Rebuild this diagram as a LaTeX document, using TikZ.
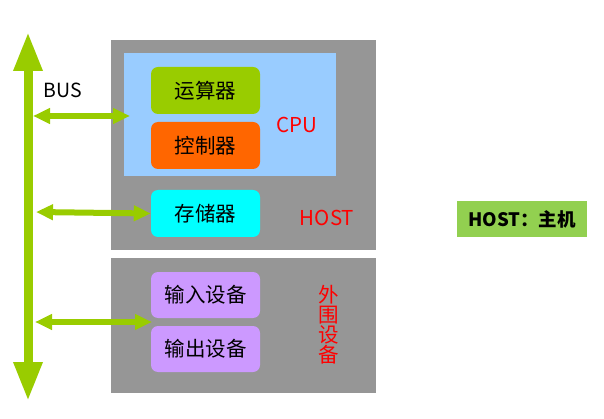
\documentclass[tikz,border=0pt]{standalone}
\usepackage{fontspec}
\setmainfont{Noto Sans CJK SC}
\usetikzlibrary{arrows.meta}
\definecolor{hostgray}{HTML}{969696}
\definecolor{cpublue}{HTML}{99CCFF}
\definecolor{busgreen}{HTML}{99CC00}
\definecolor{ctrlorange}{HTML}{FF6600}
\definecolor{memcyan}{HTML}{00FFFF}
\definecolor{iopurple}{HTML}{CC99FF}
\definecolor{legendgreen}{HTML}{92D050}
\definecolor{labelred}{HTML}{FF0000}
\tikzset{
  panel/.style={fill=#1, draw=none, inner sep=0pt, anchor=north west},
  unitbox/.style={fill=#1, draw=none, rounded corners=7pt, minimum width=109pt, minimum height=47pt, inner sep=0pt, font=\fontsize{20.5}{22}\selectfont},
  redlabel/.style={text=labelred, font=\fontsize{20.5}{22}\selectfont, inner sep=0pt},
  busline/.style={draw=busgreen, line width=9pt, {Triangle[width=27pt,length=39pt]}-{Triangle[width=27pt,length=39pt]}, shorten <=-1pt, shorten >=-1pt},
  linkline/.style={draw=busgreen, line width=6pt, {Triangle[width=15pt,length=17pt]}-{Triangle[width=15pt,length=17pt]}}
}
\begin{document}
\begin{tikzpicture}[x=1pt,y=-1pt]
\useasboundingbox (0,0) rectangle (604,419);
% host panel
\node[panel=hostgray, minimum width=265pt, minimum height=210pt] (host) at (111,40) {};
\node[panel=cpublue, minimum width=212pt, minimum height=123pt] (cpu) at (124,53) {};
\node[panel=hostgray, minimum width=265pt, minimum height=135pt] (periph) at (111,258) {};
% units
\node[unitbox=busgreen] (alu) at (205.5,90.5) {运算器};
\node[unitbox=ctrlorange] (ctrl) at (205.5,145.5) {控制器};
\node[unitbox=memcyan] (mem) at (205.5,213.5) {存储器};
\node[unitbox=iopurple, minimum height=46pt] (inp) at (205.5,295) {输入设备};
\node[unitbox=iopurple, minimum height=46pt] (outp) at (205.5,349) {输出设备};
% labels
\node[redlabel] (cpulabel) at (297,125) {CPU};
\node[redlabel] (hostlabel) at (327,218) {HOST};
\node[redlabel, align=center, font=\fontsize{20.5}{20}\selectfont] (periphlabel) at (329,325) {外\\围\\设\\备};
\node[fill=legendgreen, minimum width=130pt, minimum height=36pt, inner sep=0pt, font=\bfseries\fontsize{18.5}{20}\selectfont] (legend) at (522,219) {HOST：主机};
% bus
\coordinate (busTop) at (28,33);
\coordinate (busBot) at (28,400);
\draw[busline] (busTop) -- (busBot);
\node[inner sep=0pt, font=\fontsize{19.5}{21}\selectfont] (buslabel) at (63,90) {BUS};
% links
\coordinate (b1) at (33,116);
\coordinate (c1) at (130,116);
\coordinate (b2) at (36,212);
\coordinate (b3) at (35,322);
\coordinate (c3) at (152,322);
\draw[linkline] (b1) -- (c1);
\draw[linkline] (b2) -- (mem.west);
\draw[linkline] (b3) -- (c3);
\end{tikzpicture}
\end{document}
